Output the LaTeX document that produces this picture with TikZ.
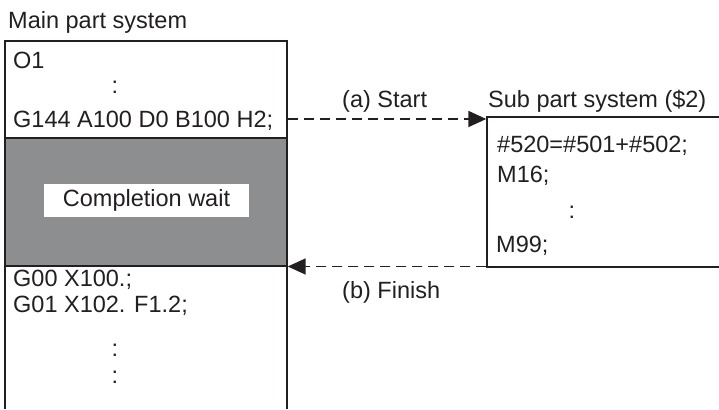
\documentclass[tikz,border=0pt]{standalone}
\usepackage{fontspec}
\setmainfont{Liberation Sans}
\usetikzlibrary{arrows.meta}
\definecolor{ink}{HTML}{231F20}
\definecolor{waitgray}{HTML}{8D8E90}
\begin{document}
\begin{tikzpicture}[x=1pt,y=-1pt,
  font=\fontsize{23.5}{28}\selectfont,
  every node/.style={inner sep=0pt, text=ink},
  txt/.style={anchor=base west},
  dotsym/.style={anchor=base},
  frame/.style={draw=ink, line width=1.4pt},
  flow/.style={draw=ink, line width=1.6pt, dash pattern=on 10pt off 6pt, -{Triangle[length=18pt,width=16pt]}},
  waitbox/.style={fill=white, minimum width=205pt, minimum height=33pt}]
\useasboundingbox (0,0) rectangle (719,409);
% completion wait area
\fill[waitgray] (5,138) rectangle (287,266);
% main part system frame (open at bottom)
\draw[frame] (5,409) -- (5,41) -- (287,41) -- (287,409);
\draw[frame] (5,138) -- (287,138);
\draw[frame] (5,266) -- (287,266);
% sub part system frame (open at right)
\draw[frame] (719,117) -- (487,117) -- (487,267) -- (719,267);
% texts
\node[txt] (title) at (8,29) {Main part system};
\node[txt] (o1) at (13,69) {O1};
\node[dotsym] (d1) at (115,94) {:};
\node[txt] (g144) at (13,128) {G144 A100 D0 B100 H2;};
\node[waitbox] (wait) at (146.5,200.5) {Completion wait};
\node[txt] (g00) at (13,286) {G00 X100.;};
\node[txt] (g01) at (13,312) {G01 X102. F1.2;};
\node[dotsym] (d2) at (115,356) {:};
\node[dotsym] (d3) at (115,383) {:};
\node[txt] (start) at (342,107) {(a) Start};
\node[txt] (subt) at (488,107) {Sub part system (\$2)};
\node[txt] (s1) at (497,152) {\#520=\#501+\#502;};
\node[txt] (s2) at (497,182) {M16;};
\node[dotsym] (d4) at (572,218) {:};
\node[txt] (s3) at (496,252) {M99;};
\node[txt] (finish) at (342,298) {(b) Finish};
% connectors
\coordinate (a1) at (287.7,119);
\coordinate (a2) at (486.3,119);
\coordinate (b1) at (486.3,266.5);
\coordinate (b2) at (287.7,266.5);
\draw[flow] (a1) -- (a2);
\draw[flow] (b1) -- (b2);
\end{tikzpicture}
\end{document}
